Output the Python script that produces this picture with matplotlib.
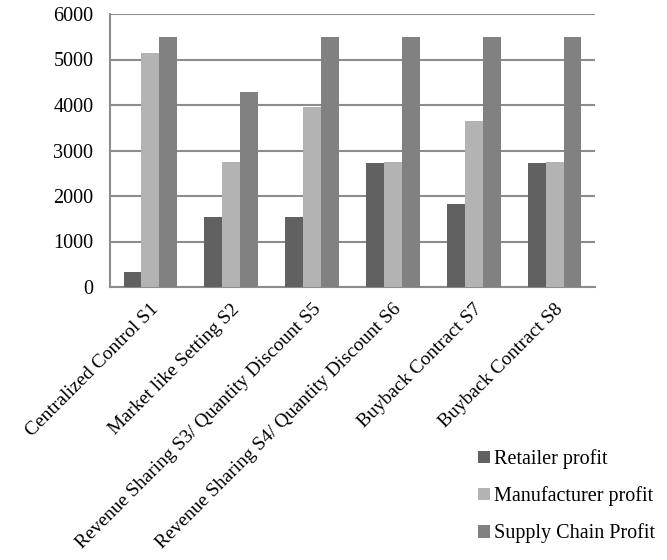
import matplotlib
matplotlib.use("Agg")
import matplotlib.pyplot as plt
import numpy as np

categories = ["Centralized Control S1", "Market like Setting S2",
              "Revenue Sharing S3/ Quantity Discount S5",
              "Revenue Sharing S4/ Quantity Discount S6",
              "Buyback Contract S7", "Buyback Contract S8"]
retailer = [330, 1540, 1540, 2730, 1830, 2730]
manufacturer = [5140, 2750, 3950, 2750, 3650, 2750]
supply_chain = [5500, 4290, 5500, 5500, 5500, 5500]

series_names = ["Retailer profit", "Manufacturer profit", "Supply Chain Profit"]
colours = ["#616161", "#b3b3b3", "#818181"]

plt.rcParams['font.family'] = ['Liberation Serif', 'DejaVu Serif']

fig = plt.figure(figsize=(6.67, 5.6), dpi=100)
ax = fig.add_axes([0.165, 0.4875, 0.727, 0.4875])

x = np.arange(len(categories))
width = 0.222
for i, (vals, name, col) in enumerate(zip([retailer, manufacturer, supply_chain], series_names, colours)):
    ax.bar(x + (i - 1) * width, vals, width, color=col, label=name, zorder=3)

ax.set_xlim(-0.5, len(categories) - 0.5)
ax.set_ylim(0, 6000)
ax.set_yticks(np.arange(0, 6001, 1000))
ax.yaxis.grid(True, color="#8c8c8c", linewidth=1.5, zorder=0)
ax.set_axisbelow(True)
for side in ["top", "right"]:
    ax.spines[side].set_visible(False)
ax.spines["left"].set_color("#8c8c8c")
ax.spines["left"].set_linewidth(1.5)
ax.spines["bottom"].set_color("#8c8c8c")
ax.spines["bottom"].set_linewidth(1.5)
ax.tick_params(axis="y", length=0, labelsize=14.5, pad=12)
ax.tick_params(axis="x", length=0, labelsize=14, pad=10)
ax.set_xticks(x)
ax.set_xticklabels(categories, rotation=45, ha="right", rotation_mode="anchor")

ax.legend(loc="upper left", bbox_to_anchor=(0.721, -0.528), frameon=False,
          fontsize=14.5, handlelength=0.6, handleheight=0.6, handletextpad=0.2,
          labelspacing=0.85)

fig.savefig("out.png", dpi=100)
